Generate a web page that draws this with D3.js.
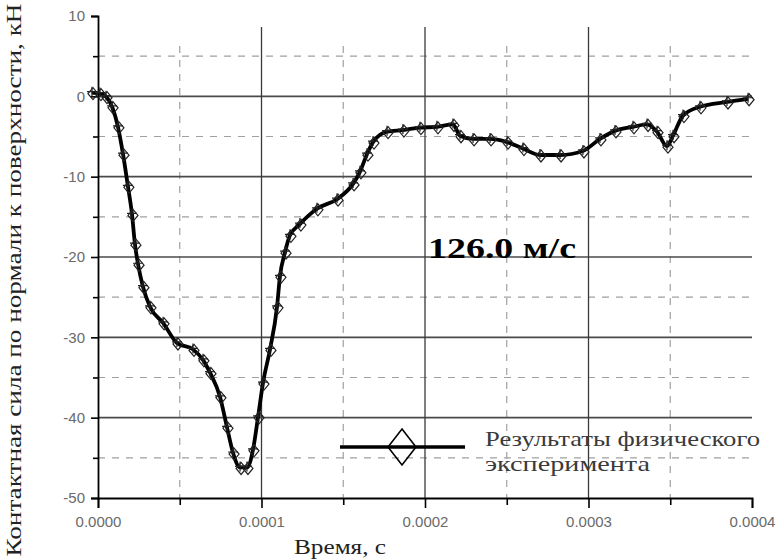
<!DOCTYPE html>
<html>
<head>
<meta charset="utf-8">
<script src="https://cdn.jsdelivr.net/npm/d3@7"></script>
<style>
  html, body { margin: 0; padding: 0; background: #fff; }
  svg { display: block; }
  .serif { font-family: "Liberation Serif", "Times New Roman", serif; }
  .sans { font-family: "Liberation Sans", Arial, sans-serif; }
</style>
</head>
<body>
<svg id="chart" width="781" height="560"></svg>
<script>
// Contact force normal to the surface vs. time, impact at 126.0 m/s
const timeUs = [-3.7, 1.2, 4.9, 8.6, 12.2, 15.3, 18.3, 20.8, 22.6, 24.5, 27.5, 31.8, 39.8, 48.3,
  58.1, 64.2, 68.5, 74.6, 78.9, 82.6, 86.9, 91.1, 94.8, 97.9, 100.9, 105.2, 109.5, 111.3,
  114.4, 117.4, 123.5, 133.9, 146.2, 156.0, 160.2, 164.5, 168.2, 176.8, 186.5, 196.9, 207.3,
  217.1, 221.4, 229.4, 239.8, 250.2, 259.9, 270.3, 282.6, 296.6, 307.0, 316.2, 327.2, 335.8,
  341.9, 348.0, 351.7, 357.8, 368.2, 384.7, 397.6];
const forceKN = [0.46, 0.34, -0.04, -1.3, -3.8, -7.2, -11.2, -14.7, -18.4, -20.9, -23.7, -26.2, -28.2, -30.7,
  -31.5, -32.8, -34.4, -37.4, -41.2, -44.4, -46.2, -46.2, -44.0, -39.9, -35.7, -31.5, -26.2, -22.4,
  -19.4, -17.3, -15.9, -14.0, -12.8, -10.9, -9.4, -7.2, -5.7, -4.4, -4.2, -3.9, -3.8,
  -3.5, -4.9, -5.3, -5.3, -5.7, -6.5, -7.3, -7.3, -6.8, -5.3, -4.3, -3.8, -3.5,
  -4.4, -6.2, -4.9, -2.4, -1.3, -0.7, -0.3];

const xMajorTicks = [0, 0.0001, 0.0002, 0.0003, 0.0004];
const xMinorTicks = [0.00005, 0.00015, 0.00025, 0.00035];
const yMajorTicks = [10, 0, -10, -20, -30, -40, -50];
const yMinorTicks = [5, -5, -15, -25, -35, -45];
const xGridSolid = [0.0001, 0.0002, 0.0003];
const yGridSolid = [0, -10, -20, -30, -40];

const speedLabel = "126.0 м/с";
const legendLines = ["Результаты физического", "эксперимента"];
const xTitle = "Время, с";
const yTitle = "Контактная сила по нормали к поверхности, кН";

const data = timeUs.map((t, i) => ({ t: t * 1e-6, f: forceKN[i] }));

const svg = d3.select("#chart");
const x = d3.scaleLinear().domain([0, 0.0004]).range([98, 752]);
const y = d3.scaleLinear().domain([-50, 10]).range([498, 16]);

const grid = svg.append("g");
// dashed minor grid
grid.selectAll("line.hd").data(yMinorTicks).join("line")
  .attr("x1", x(0)).attr("x2", x(0.0004))
  .attr("y1", d => y(d)).attr("y2", d => y(d))
  .attr("stroke", "#a0a0a0").attr("stroke-width", 1.2).attr("stroke-dasharray", "7,7");
grid.selectAll("line.vd").data(xMinorTicks).join("line")
  .attr("x1", d => x(d)).attr("x2", d => x(d))
  .attr("y1", 46).attr("y2", y(-50))
  .attr("stroke", "#a0a0a0").attr("stroke-width", 1.2).attr("stroke-dasharray", "7,7");
// solid major grid
grid.selectAll("line.hs").data(yGridSolid).join("line")
  .attr("x1", x(0)).attr("x2", x(0.0004))
  .attr("y1", d => y(d)).attr("y2", d => y(d))
  .attr("stroke", "#4a4a4a").attr("stroke-width", 1.6);
grid.selectAll("line.vs").data(xGridSolid).join("line")
  .attr("x1", d => x(d)).attr("x2", d => x(d))
  .attr("y1", 27).attr("y2", y(-50))
  .attr("stroke", "#3a3a3a").attr("stroke-width", 1.3);

// axes
const xAxis = svg.append("g").attr("transform", `translate(0,${y(-50)})`)
  .call(d3.axisBottom(x).tickValues(xMajorTicks).tickFormat(d3.format(".4f")).tickSize(10).tickPadding(8));
svg.append("g").attr("transform", `translate(0,${y(-50)})`)
  .call(d3.axisBottom(x).tickValues(xMinorTicks).tickFormat("").tickSize(7))
  .call(g => g.select(".domain").remove());
const yAxis = svg.append("g").attr("transform", `translate(${x(0)},0)`)
  .call(d3.axisLeft(y).tickValues(yMajorTicks).tickFormat(d => String(d)).tickSize(7).tickPadding(6));
svg.append("g").attr("transform", `translate(${x(0)},0)`)
  .call(d3.axisLeft(y).tickValues(yMinorTicks).tickFormat("").tickSize(5))
  .call(g => g.select(".domain").remove());

svg.selectAll(".domain").attr("stroke", "#000").attr("stroke-width", 1.8);
svg.selectAll(".tick line").attr("stroke", "#000").attr("stroke-width", 1.6);
[xAxis, yAxis].forEach(a => a.selectAll(".tick text")
  .attr("class", "sans")
  .attr("font-size", 15).attr("fill", "#6a6a6a"));
[xAxis, yAxis].forEach(a => a.attr("font-family", null).attr("font-size", null));

// the measured curve
const line = d3.line().x(d => x(d.t)).y(d => y(d.f)).curve(d3.curveMonotoneX);
svg.append("path").datum(data)
  .attr("d", line).attr("fill", "none")
  .attr("stroke", "#000").attr("stroke-width", 3.8).attr("stroke-linejoin", "round");

const diamond = (cx, cy, w, h) => `M${cx},${cy - h}L${cx + w},${cy}L${cx},${cy + h}L${cx - w},${cy}Z`;
svg.append("g").selectAll("path").data(data).join("path")
  .attr("d", d => diamond(x(d.t) + 1, y(d.f) + 1, 5, 6))
  .attr("fill", "none").attr("stroke", "#222").attr("stroke-width", 1.2);
svg.append("g").selectAll("path").data(data).join("path")
  .attr("d", d => `M${x(d.t) - 5},${y(d.f) - 1}h10M${x(d.t)},${y(d.f) - 6}v10`)
  .attr("stroke", "#222").attr("stroke-width", 1.2);

// speed label
svg.append("text").attr("class", "serif").attr("x", 428).attr("y", 258)
  .attr("font-weight", "bold").attr("font-size", 30)
  .attr("textLength", 148).attr("lengthAdjust", "spacingAndGlyphs")
  .text(speedLabel);

// legend
svg.append("line").attr("x1", 340).attr("x2", 465).attr("y1", 447).attr("y2", 447)
  .attr("stroke", "#000").attr("stroke-width", 3.4);
svg.append("path").attr("d", diamond(402, 447, 14, 18))
  .attr("fill", "none").attr("stroke", "#000").attr("stroke-width", 1.6);
const legendWidths = [275, 165];
svg.append("g").selectAll("text").data(legendLines).join("text")
  .attr("class", "serif")
  .attr("x", 485).attr("y", (d, i) => 446 + i * 25)
  .attr("font-size", 22).attr("fill", "#3a3a3a")
  .attr("textLength", (d, i) => legendWidths[i]).attr("lengthAdjust", "spacingAndGlyphs")
  .text(d => d);

// axis titles
svg.append("text").attr("class", "serif").attr("x", 340).attr("y", 554).attr("text-anchor", "middle")
  .attr("font-size", 22).attr("fill", "#222")
  .attr("textLength", 92).attr("lengthAdjust", "spacingAndGlyphs")
  .text(xTitle);
svg.append("text").attr("class", "serif").attr("transform", "translate(21,280) rotate(-90)")
  .attr("text-anchor", "middle")
  .attr("font-size", 21).attr("fill", "#222")
  .attr("textLength", 553).attr("lengthAdjust", "spacingAndGlyphs")
  .text(yTitle);
</script>
</body>
</html>
